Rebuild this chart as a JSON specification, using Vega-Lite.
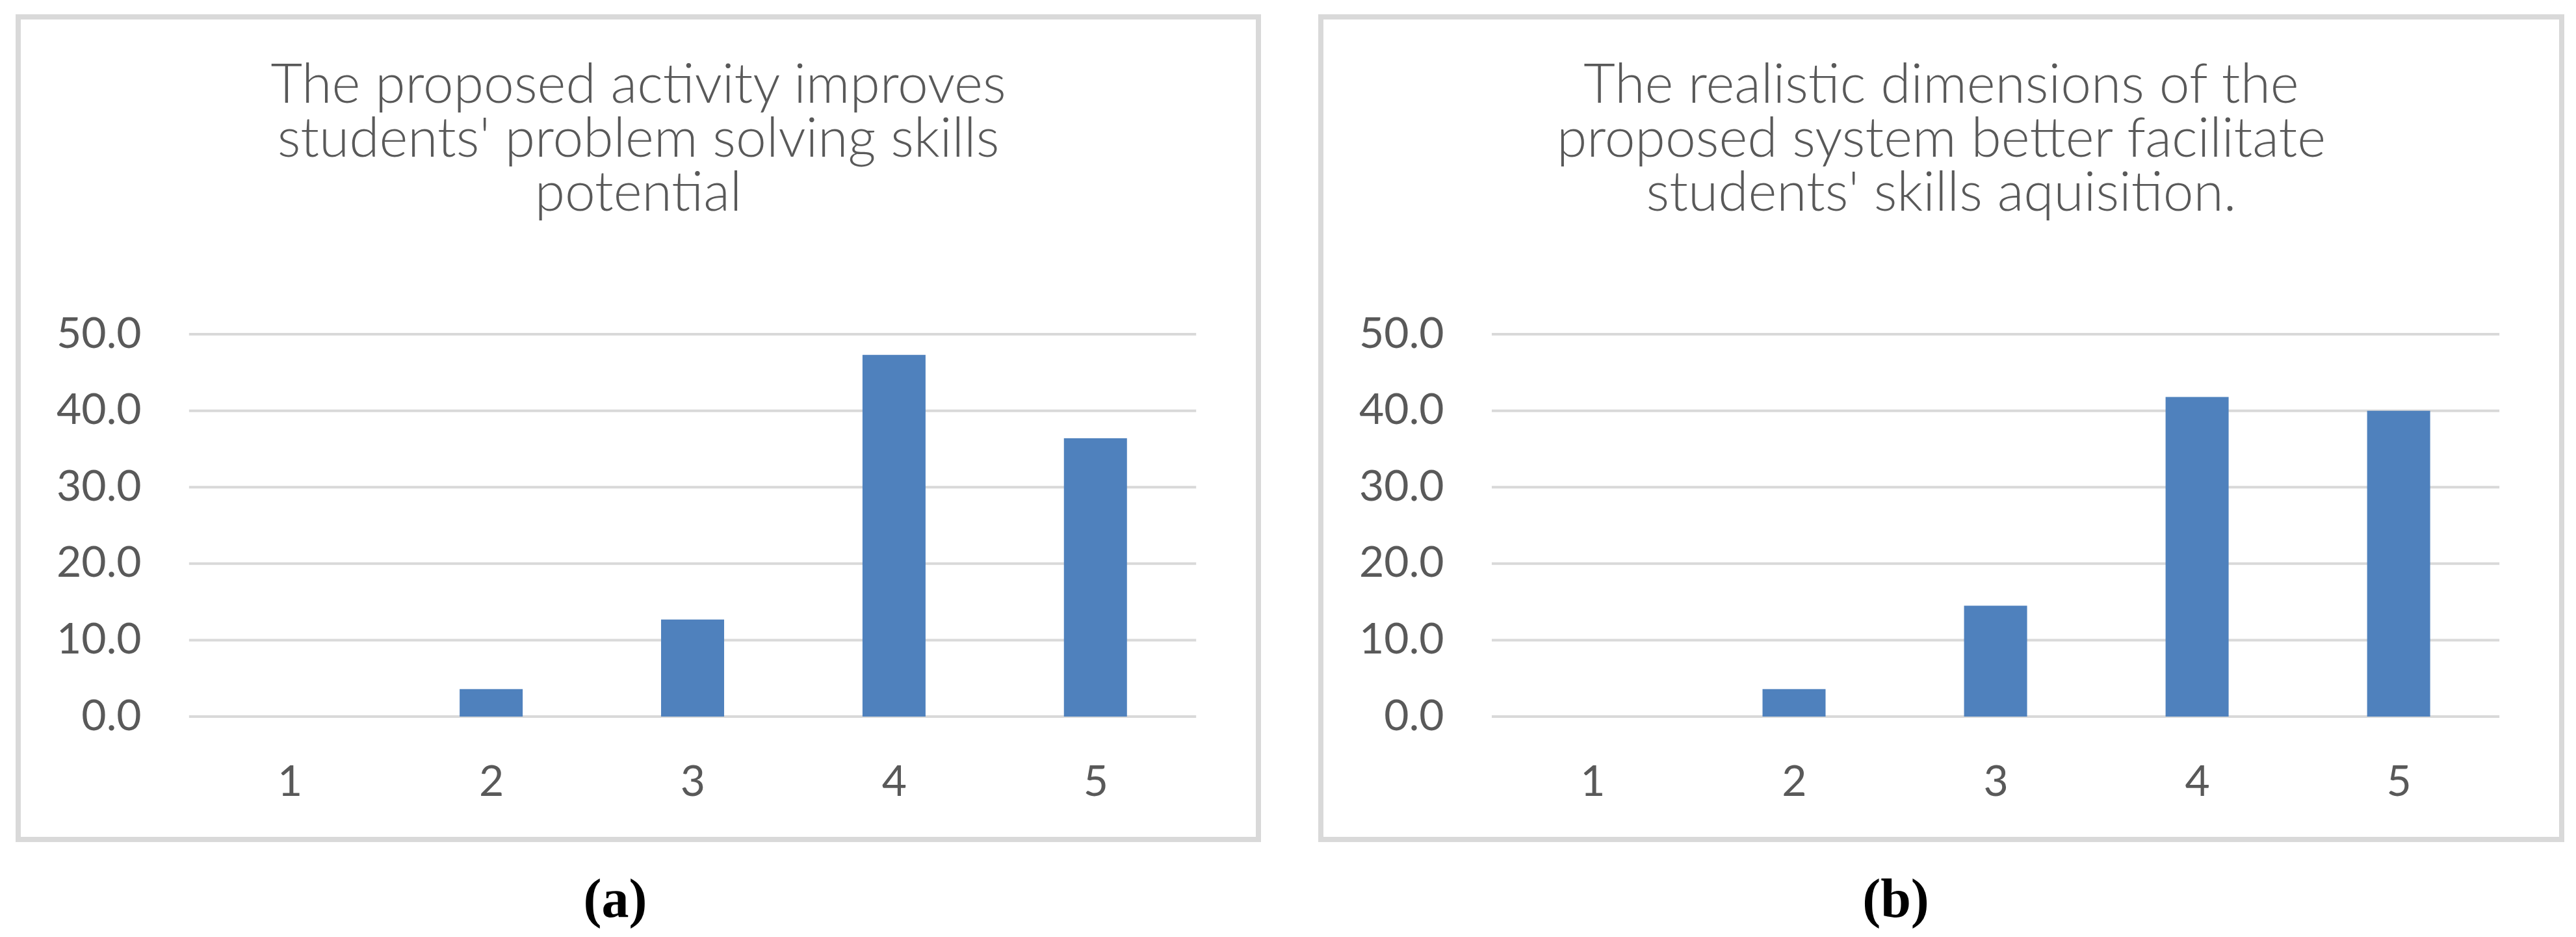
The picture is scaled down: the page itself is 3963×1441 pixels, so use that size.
{
  "$schema": "https://vega.github.io/schema/vega-lite/v6.json",
  "background": "white",
  "padding": {"left": 24, "top": 22, "right": 0, "bottom": 0},
  "datasets": {
    "a": [
      {"rating": 1, "pct": 0.0},
      {"rating": 2, "pct": 3.6},
      {"rating": 3, "pct": 12.7},
      {"rating": 4, "pct": 47.3},
      {"rating": 5, "pct": 36.4}
    ],
    "b": [
      {"rating": 1, "pct": 0.0},
      {"rating": 2, "pct": 3.6},
      {"rating": 3, "pct": 14.5},
      {"rating": 4, "pct": 41.8},
      {"rating": 5, "pct": 40.0}
    ],
    "grid": [{"v": 0}, {"v": 10}, {"v": 20}, {"v": 30}, {"v": 40}, {"v": 50}]
  },
  "spacing": 96,
  "bounds": "flush",
  "hconcat": [
    {
      "width": 1908,
      "height": 1265,
      "title": {"text": ["The proposed activity improves", "students' problem solving skills", "potential"]},
      "layer": [
        {
          "data": {"name": "grid"},
          "mark": {"type": "rule", "color": "#d9d9d9", "strokeWidth": 4},
          "encoding": {
            "y": {"field": "v", "type": "quantitative", "scale": {"domain": [-16.07, 91.5], "nice": false, "zero": false},
                  "axis": {"values": [0, 10, 20, 30, 40, 50], "format": ".1f", "title": null}},
            "x": {"datum": 0.5, "type": "quantitative", "scale": {"domain": [-0.332, 5.793], "nice": false, "zero": false},
                  "axis": {"values": [1, 2, 3, 4, 5], "format": "d", "title": "(a)", "titleX": 918}},
            "x2": {"datum": 5.5}
          }
        },
        {
          "data": {"name": "a"},
          "mark": {"type": "bar", "width": 97, "color": "#4f81bd"},
          "encoding": {
            "x": {"field": "rating", "type": "quantitative",
                  "axis": {"values": [1, 2, 3, 4, 5], "format": "d", "title": "(a)", "titleX": 918}},
            "y": {"field": "pct", "type": "quantitative",
                  "axis": {"values": [0, 10, 20, 30, 40, 50], "format": ".1f", "title": null}},
            "y2": {"datum": 0}
          }
        }
      ]
    },
    {
      "width": 1909,
      "height": 1265,
      "title": {"text": ["The realistic dimensions of the", "proposed system better facilitate", "students' skills aquisition."]},
      "layer": [
        {
          "data": {"name": "grid"},
          "mark": {"type": "rule", "color": "#d9d9d9", "strokeWidth": 4},
          "encoding": {
            "y": {"field": "v", "type": "quantitative", "scale": {"domain": [-16.07, 91.5], "nice": false, "zero": false},
                  "axis": {"values": [0, 10, 20, 30, 40, 50], "format": ".1f", "title": null}},
            "x": {"datum": 0.5, "type": "quantitative", "scale": {"domain": [-0.332, 5.793], "nice": false, "zero": false},
                  "axis": {"values": [1, 2, 3, 4, 5], "format": "d", "title": "(b)", "titleX": 884}},
            "x2": {"datum": 5.5}
          }
        },
        {
          "data": {"name": "b"},
          "mark": {"type": "bar", "width": 97, "color": "#4f81bd"},
          "encoding": {
            "x": {"field": "rating", "type": "quantitative",
                  "axis": {"values": [1, 2, 3, 4, 5], "format": "d", "title": "(b)", "titleX": 884}},
            "y": {"field": "pct", "type": "quantitative",
                  "axis": {"values": [0, 10, 20, 30, 40, 50], "format": ".1f", "title": null}},
            "y2": {"datum": 0}
          }
        }
      ]
    }
  ],
  "config": {
    "view": {"stroke": "#d9d9d9", "strokeWidth": 8},
    "title": {
      "font": "Lato", "fontSize": 84, "fontWeight": 300, "color": "#595959",
      "anchor": "middle", "frame": "group", "orient": "top", "offset": -316,
      "baseline": "alphabetic", "lineHeight": 83
    },
    "axisY": {
      "domain": false, "ticks": false, "tickSize": 0, "grid": false, "labelPadding": 0,
      "offset": -189, "labelFont": "Lato", "labelFontSize": 66, "labelColor": "#595959"
    },
    "axisX": {
      "domain": false, "ticks": false, "tickSize": 0, "grid": false, "labelPadding": 0,
      "offset": -88, "labelBaseline": "middle", "labelFont": "Lato", "labelFontSize": 66,
      "labelColor": "#595959", "labelFlush": false, "labelOverlap": false,
      "titleFont": "Liberation Serif", "titleFontSize": 84, "titleFontWeight": "bold",
      "titleColor": "#000000", "titleBaseline": "alphabetic", "titleY": 206, "titleAlign": "center",
      "titleAnchor": null
    }
  }
}
